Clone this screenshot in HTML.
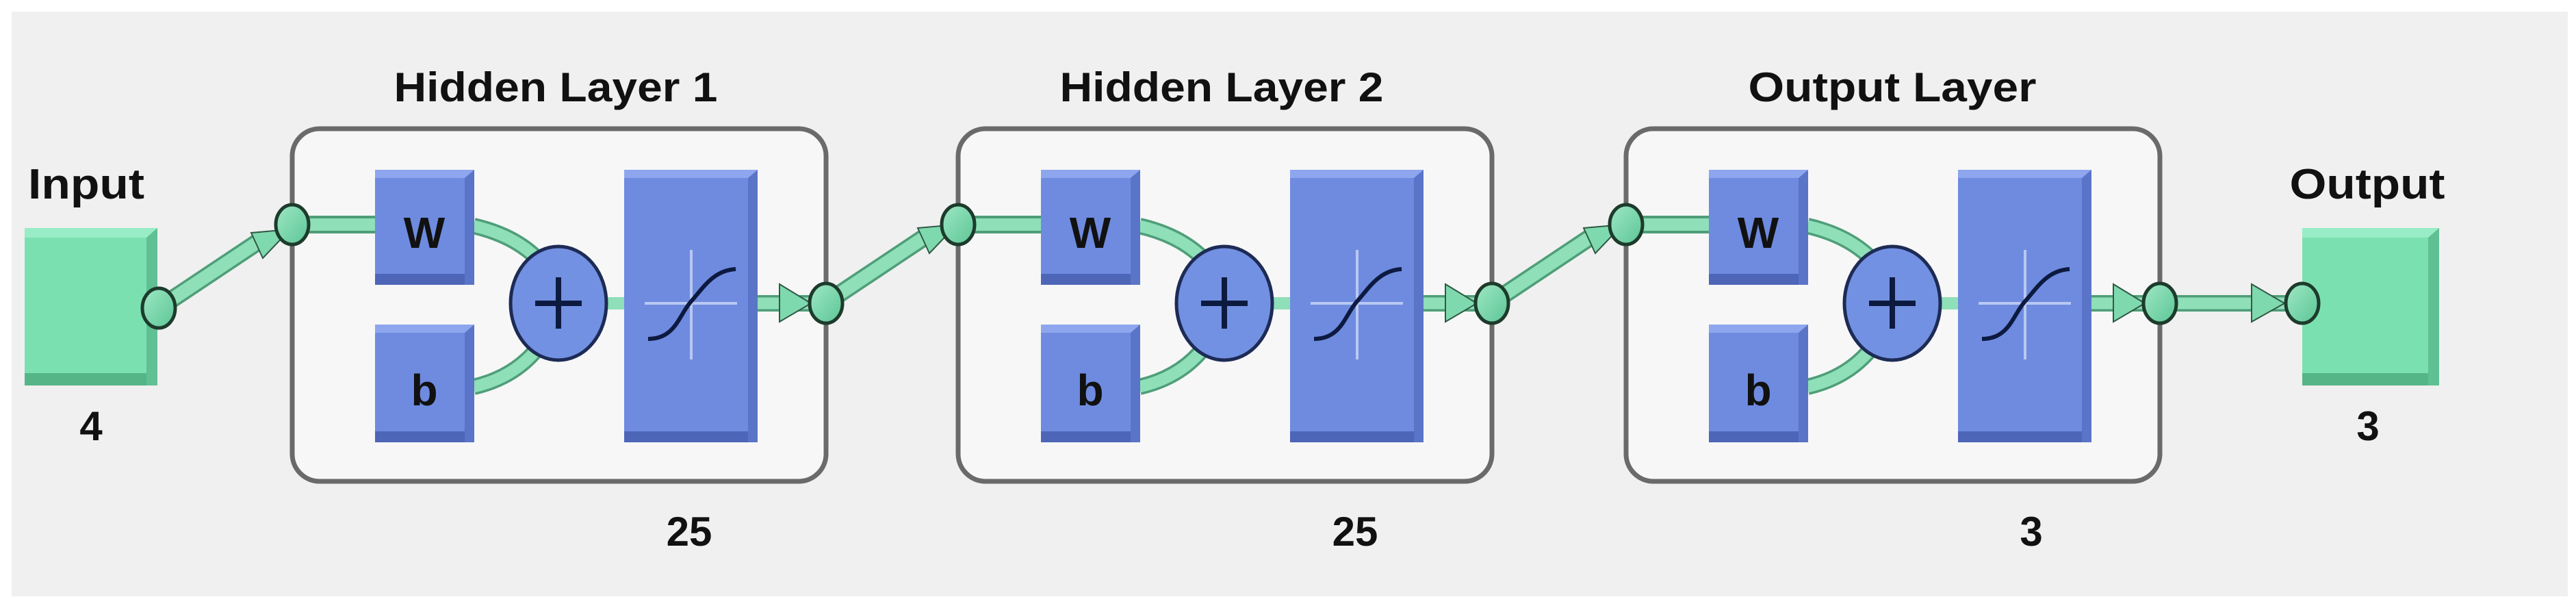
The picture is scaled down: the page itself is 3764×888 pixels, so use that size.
<!DOCTYPE html>
<html><head><meta charset="utf-8"><style>
html,body{margin:0;padding:0;background:#fff;}
svg{display:block;}
text{font-family:"Liberation Sans Narrow","Liberation Sans",sans-serif;font-weight:bold;fill:#111;}
</style></head><body>
<svg width="3764" height="888" viewBox="0 0 3764 888" xmlns="http://www.w3.org/2000/svg">
<defs>
<linearGradient id="gn" x1="0" y1="0" x2="1" y2="1"><stop offset="0" stop-color="#9ee8c4"/><stop offset="1" stop-color="#5cc596"/></linearGradient>
<g id="layer">
  <rect x="0" y="188" width="780" height="515" rx="40" fill="#f7f7f7" stroke="#6a6a6a" stroke-width="7"/>
  <!-- input line -->
  <line x1="0" y1="328" x2="122" y2="328" stroke="#4f9e79" stroke-width="26"/>
  <line x1="0" y1="328" x2="122" y2="328" stroke="#8fdfb8" stroke-width="18"/>
  <!-- curves -->
  <path d="M265 330 Q330 345 365 385" fill="none" stroke="#4f9e79" stroke-width="24"/>
  <path d="M265 330 Q330 345 365 385" fill="none" stroke="#8fdfb8" stroke-width="17"/>
  <path d="M265 565 Q330 550 365 500" fill="none" stroke="#4f9e79" stroke-width="24"/>
  <path d="M265 565 Q330 550 365 500" fill="none" stroke="#8fdfb8" stroke-width="17"/>
  <line x1="455" y1="443" x2="490" y2="443" stroke="#8fdfb8" stroke-width="18"/>
  <!-- out line -->
  <line x1="680" y1="443" x2="770" y2="443" stroke="#4f9e79" stroke-width="24"/>
  <line x1="680" y1="443" x2="770" y2="443" stroke="#8fdfb8" stroke-width="17"/>
  <polygon points="712,415 758,443 712,470" fill="#7fd9ae" stroke="#2e5a45" stroke-width="2"/>
  <!-- W -->
  <rect x="121" y="248" width="145" height="168" fill="#6e8be0"/>
  <polygon points="121,400 266,400 266,416 121,416" fill="#4d66b8"/>
  <polygon points="252,248 266,248 266,416 252,416" fill="#5a74c8"/>
  <polygon points="121,248 266,248 252,260 121,260" fill="#8ea6ee"/>
  <text x="193" y="362" font-size="64" text-anchor="middle" fill="#0d1a40">W</text>
  <!-- b -->
  <rect x="121" y="474" width="145" height="172" fill="#6e8be0"/>
  <polygon points="121,630 266,630 266,646 121,646" fill="#4d66b8"/>
  <polygon points="252,474 266,474 266,646 252,646" fill="#5a74c8"/>
  <polygon points="121,474 266,474 252,486 121,486" fill="#8ea6ee"/>
  <text x="193" y="592" font-size="64" text-anchor="middle" fill="#0d1a40">b</text>
  <!-- sum -->
  <ellipse cx="389" cy="443" rx="70" ry="83" fill="#7391e3" stroke="#1d2b55" stroke-width="5"/>
  <line x1="355" y1="443" x2="423" y2="443" stroke="#0d1a40" stroke-width="8"/>
  <line x1="389" y1="405" x2="389" y2="480" stroke="#0d1a40" stroke-width="8"/>
  <!-- transfer -->
  <rect x="485" y="248" width="195" height="398" fill="#6e8be0"/>
  <polygon points="485,630 680,630 680,646 485,646" fill="#4d66b8"/>
  <polygon points="666,248 680,248 680,646 666,646" fill="#5a74c8"/>
  <polygon points="485,248 680,248 666,260 485,260" fill="#8ea6ee"/>
  <line x1="515" y1="443" x2="650" y2="443" stroke="#b9c8f2" stroke-width="4"/>
  <line x1="583" y1="365" x2="583" y2="525" stroke="#b9c8f2" stroke-width="4"/>
  <path d="M520 495 C560 495 565 460 583 440 S615 395 648 393" fill="none" stroke="#0d1a40" stroke-width="6"/>
  <!-- nodes -->
  <ellipse cx="0" cy="328" rx="24" ry="29" fill="url(#gn)" stroke="#1d3b2c" stroke-width="5"/>
  <ellipse cx="780" cy="443" rx="24" ry="29" fill="url(#gn)" stroke="#1d3b2c" stroke-width="5"/>
</g>
<g id="diag">
  <line x1="0" y1="0" x2="150" y2="-100" stroke="#4f9e79" stroke-width="26"/>
  <line x1="0" y1="0" x2="150" y2="-100" stroke="#8fdfb8" stroke-width="19"/>
  <polygon points="135,-110 192,-115 152,-73" fill="#7fd9ae" stroke="#2e5a45" stroke-width="2"/>
</g>
</defs>
<rect x="0" y="0" width="3764" height="888" fill="#ffffff"/>
<rect x="17" y="17" width="3735" height="854" fill="#f0f0f0"/>

<!-- Input -->
<text x="126" y="290" font-size="62" text-anchor="middle" textLength="170" lengthAdjust="spacingAndGlyphs">Input</text>
<use href="#diag" x="232" y="450"/>
<rect x="36" y="333" width="194" height="230" fill="#7be0b0"/>
<polygon points="36,545 230,545 230,563 36,563" fill="#55b587"/>
<polygon points="214,333 230,333 230,563 214,563" fill="#5fc093"/>
<polygon points="36,333 230,333 214,347 36,347" fill="#98ecc6"/>
<ellipse cx="232" cy="450" rx="24" ry="29" fill="url(#gn)" stroke="#1d3b2c" stroke-width="5"/>
<text x="133" y="643" font-size="60" text-anchor="middle">4</text>

<!-- diagonal connectors between layers -->
<use href="#diag" x="1206" y="443"/>
<use href="#diag" x="2179" y="443"/>

<!-- Layers -->
<use href="#layer" x="427" y="0"/>
<use href="#layer" x="1400" y="0"/>
<use href="#layer" x="2376" y="0"/>

<text x="812" y="148" font-size="60" text-anchor="middle" textLength="473" lengthAdjust="spacingAndGlyphs">Hidden Layer 1</text>
<text x="1785" y="148" font-size="60" text-anchor="middle" textLength="473" lengthAdjust="spacingAndGlyphs">Hidden Layer 2</text>
<text x="2765" y="148" font-size="60" text-anchor="middle" textLength="421" lengthAdjust="spacingAndGlyphs">Output Layer</text>
<text x="1007" y="797" font-size="60" text-anchor="middle">25</text>
<text x="1980" y="797" font-size="60" text-anchor="middle">25</text>
<text x="2968" y="797" font-size="60" text-anchor="middle">3</text>

<!-- Output -->
<line x1="3160" y1="443" x2="3340" y2="443" stroke="#4f9e79" stroke-width="24"/>
<line x1="3160" y1="443" x2="3340" y2="443" stroke="#8fdfb8" stroke-width="17"/>
<polygon points="3290,415 3338,443 3290,470" fill="#7fd9ae" stroke="#2e5a45" stroke-width="2"/>
<ellipse cx="3156" cy="443" rx="24" ry="29" fill="url(#gn)" stroke="#1d3b2c" stroke-width="5"/>
<text x="3459" y="290" font-size="62" text-anchor="middle" textLength="227" lengthAdjust="spacingAndGlyphs">Output</text>
<rect x="3364" y="333" width="200" height="230" fill="#7be0b0"/>
<polygon points="3364,545 3564,545 3564,563 3364,563" fill="#55b587"/>
<polygon points="3548,333 3564,333 3564,563 3548,563" fill="#5fc093"/>
<polygon points="3364,333 3564,333 3548,347 3364,347" fill="#98ecc6"/>
<ellipse cx="3364" cy="443" rx="24" ry="29" fill="url(#gn)" stroke="#1d3b2c" stroke-width="5"/>
<text x="3460" y="643" font-size="60" text-anchor="middle">3</text>
</svg>
</body></html>
